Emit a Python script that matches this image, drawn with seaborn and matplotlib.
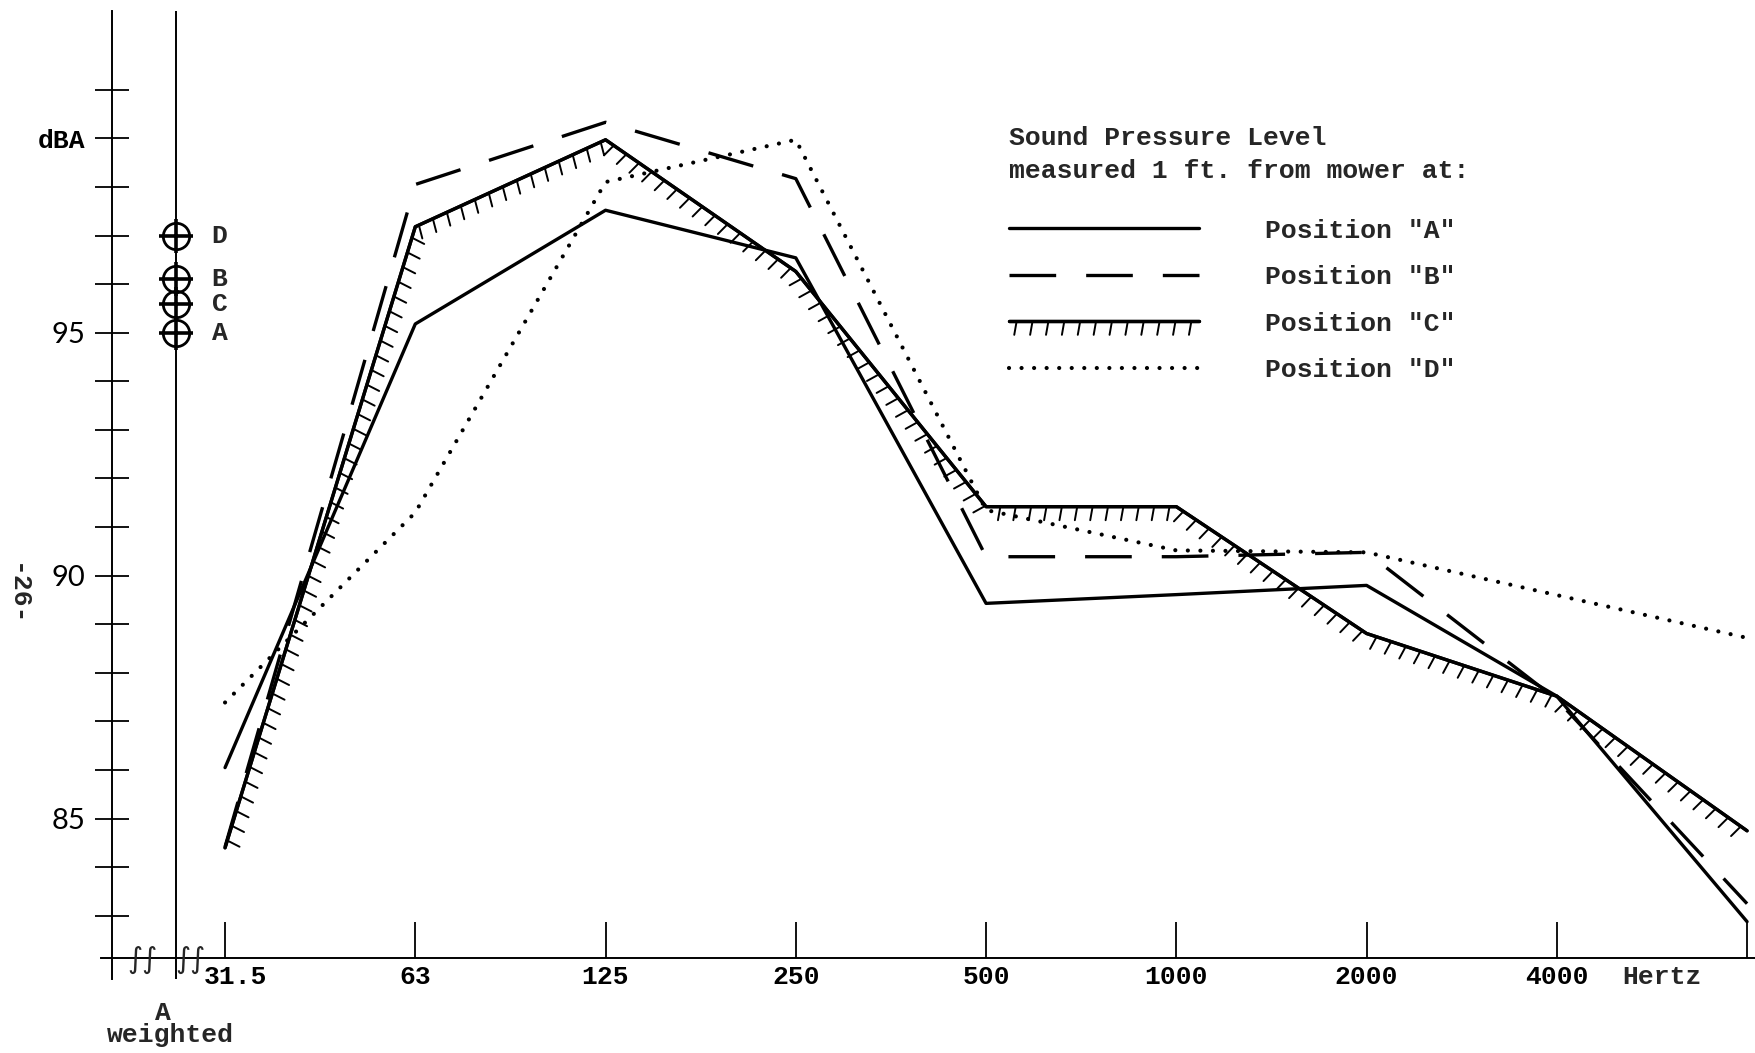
import matplotlib
matplotlib.use("Agg")
import matplotlib.pyplot as plt
import matplotlib.patheffects as pe
import matplotlib.transforms as mtransforms
import seaborn as sns
import numpy as np
import pandas as pd


# octave band centre frequencies, Hz (last tick is left unlabelled on the chart)
freq_labels = ["31.5", "63", "125", "250", "500", "1000", "2000", "4000", "8000"]

# sound pressure level in dB for each mower position
pos_a = [86.05, 95.18, 97.52, 96.54, 89.43, 89.61, 89.80, 87.52, 82.88]
pos_b = [84.42, 98.05, 99.33, 98.17, 90.39, 90.39, 90.48, 87.45, 83.25]
pos_c = [84.40, 97.18, 98.97, 96.26, 91.42, 91.42, 88.81, 87.52, 84.75]
pos_d = [87.39, 91.30, 98.10, 98.97, 91.35, 90.52, 90.48, 89.60, 88.72]

# overall A-weighted levels
aw_names = ["D", "B", "C", "A"]
aw_levels = [97.0, 96.1, 95.6, 95.0]

# y ticks, only a few carry labels
y_ticks = np.arange(83, 101)
y_tick_text = {85: "85", 90: "90", 95: "95", 99: "dBA"}


sns.set_style("white")
plt.rcParams['font.family'] = ['Liberation Mono', 'DejaVu Sans']
plt.rcParams['font.weight'] = 'bold'

df = pd.DataFrame({"band": np.arange(len(freq_labels)),
                   "A": pos_a, "B": pos_b, "C": pos_c, "D": pos_d})

W, H = 1756, 1053
fig = plt.figure(figsize=(W / 100, H / 100), dpi=100)
ax = fig.add_axes([101 / W, 1 - 979 / H, 1655 / W, 968 / H])

# line look per position
styles = {
    "A": dict(linestyle="-"),
    "B": dict(linestyle=(0, (14, 9))),
    "C": dict(linestyle="-",
              path_effects=[pe.withTickedStroke(spacing=11, angle=-100, length=0.9, linewidth=1.4),
                            pe.Normal()]),
    "D": dict(linestyle=(0, (0.01, 3.0)), dash_capstyle="round", linewidth=3.0),
}
for pos in ["A", "B", "C", "D"]:
    kw = dict(color="black", linewidth=2.4)
    kw.update(styles[pos])
    sns.lineplot(data=df, x="band", y=pos, ax=ax, label='Position "%s"' % pos, **kw)

# A-weighted column left of 31.5 Hz
A_POS = -0.26
ax.axvline(A_POS, color="black", lw=1.4)
ax.plot([A_POS] * len(aw_levels), aw_levels, ls="none", marker="o", ms=19,
        mfc="none", mec="black", mew=2.0)
ax.plot([A_POS] * len(aw_levels), aw_levels, ls="none", marker="+", ms=25,
        mec="black", mew=2.6)
for name, lev in zip(aw_names, aw_levels):
    ax.text(-0.07, lev, name, ha="left", va="center", fontsize=19)

# axes
ax.set_xlim(-0.652, 8.047)
ax.set_ylim(81.7, 101.62)
sns.despine(ax=ax)
ax.spines['left'].set_position(('data', -0.594))
ax.spines['bottom'].set_position(('data', 82.13))
for s in ['left', 'bottom']:
    ax.spines[s].set_linewidth(1.4)
    ax.spines[s].set_color("black")

ax.set_xticks(np.arange(len(freq_labels)))
ax.set_xticklabels(freq_labels[:-1] + [""])
ax.set_yticks(y_ticks)
ax.set_yticklabels([y_tick_text.get(int(t), "") for t in y_ticks])
ax.tick_params(axis="x", bottom=True, direction="in", length=26, width=1.3, pad=5,
               labelsize=19, color="black", labelcolor="black")
ax.tick_params(axis="y", left=True, direction="inout", length=24, width=1.3, pad=7,
               labelsize=21, color="black", labelcolor="black")
for lbl in ax.get_yticklabels():
    if lbl.get_text() == "dBA":
        lbl.set_fontsize(19)
    else:
        lbl.set_family(["Lato", "DejaVu Sans"])
        lbl.set_fontweight("normal")
# the typed "31.5" sits a little right of its tick
first = ax.get_xticklabels()[0]
first.set_transform(first.get_transform() + mtransforms.ScaledTranslation(10 / 100, 0, fig.dpi_scale_trans))
ax.set_xlabel("")
ax.set_ylabel("")

ax.annotate("Hertz", xy=(7.55, 82.13), xytext=(0, -5), textcoords="offset points",
            ha="center", va="top", fontsize=19)

# legend block
leg = ax.legend(loc="upper left", bbox_to_anchor=(1009 / W, 1 - 126 / H), bbox_transform=fig.transFigure,
                title="Sound Pressure Level\nmeasured 1 ft. from mower at:", frameon=False,
                fontsize=19, title_fontsize=19, handlelength=7.2, handletextpad=2.5,
                labelspacing=0.85, borderpad=0, borderaxespad=0, alignment="left")
leg.get_title().set_linespacing(1.45)
leg.get_title().set_fontweight("bold")
leg._legend_box.sep = 26

# page decorations
fig.text(17 / W, 1 - 595 / H, "-26-", rotation=-90, ha="center", va="center",
         fontsize=19, fontweight="bold")
fig.text(163 / W, 1 - 1013 / H, "A", ha="center", va="center", fontsize=19)
fig.text(170 / W, 1 - 1035 / H, "weighted", ha="center", va="center", fontsize=19)
for bx in [142, 190]:
    fig.text(bx / W, 1 - 960 / H, "\u222b\u222b", ha="center", va="center",
             fontsize=21, family="DejaVu Sans", fontweight="normal")

fig.savefig("out.png", dpi=100)
